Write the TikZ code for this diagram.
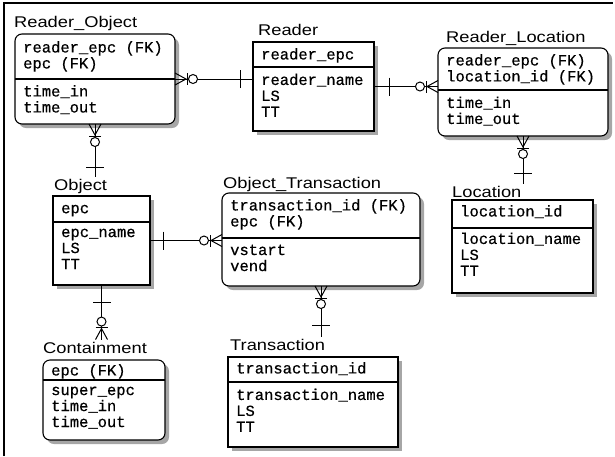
\documentclass[tikz,border=0pt]{standalone}
\usepackage{fontspec}
\usetikzlibrary{positioning}
\usetikzlibrary{backgrounds}

\newfontfamily\titlefont[FakeStretch=1.18]{Liberation Sans}
\newfontfamily\attrfont[FakeBold=0.5]{Liberation Mono}

\tikzset{
	entity/.style={draw, line width=1.1pt, fill=white, inner sep=0pt, outer sep=0pt},
	depentity/.style={entity, rounded corners=7pt},
	shade box/.style={fill=black!35},
	enttitle/.style={font=\titlefont\fontsize{15.5}{18}\selectfont, anchor=base west, inner sep=2pt},
	fields/.style={font=\attrfont\fontsize{15.5}{16}\selectfont, align=left, inner sep=0pt,
		execute at begin node={\rule{0pt}{11pt}}},
	rel/.style={line width=1pt},
	pics/zeromany/.style={code={
		\draw[rel] (0,-6) -- (11,0) -- (0,6);
		\draw[rel] (12,-6) -- (12,6);
		\draw[rel, fill=white] (18,0) circle (4.5);
	}},
	pics/onlyone/.style={code={
		\draw[rel] (#1,-9) -- (#1,9);
	}}
}

\begin{document}
\begin{tikzpicture}[x=1pt, y=-1pt]

	\useasboundingbox (0,0) rectangle (615,456);

	% frame
	\coordinate (fTL) at (4,3);
	\coordinate (fTR) at (613,3);
	\coordinate (fBL) at (4,456);
	\draw[line width=1.2pt] (fBL) -- (fTL) -- (fTR);

	% entities
	\node[depentity, minimum width=160pt, minimum height=90pt] (robj) at (95,79) {};
	\node[entity, minimum width=121pt, minimum height=89pt] (reader) at (313.5,86.5) {};
	\node[depentity, minimum width=170pt, minimum height=88pt] (rloc) at (523,92) {};
	\node[entity, minimum width=97pt, minimum height=89pt] (obj) at (101.5,240.5) {};
	\node[depentity, minimum width=198pt, minimum height=93pt] (otr) at (321,239.5) {};
	\node[entity, minimum width=141pt, minimum height=93pt] (loc) at (522.5,246.5) {};
	\node[depentity, minimum width=122pt, minimum height=80pt] (cont) at (104,400) {};
	\node[entity, minimum width=170pt, minimum height=90pt] (trans) at (313,402) {};

	% shadows
	\begin{scope}[on background layer]
		\fill[shade box, rounded corners=7pt] ([shift={(4,4)}]robj.north west) rectangle ([shift={(4,4)}]robj.south east);
		\fill[shade box] ([shift={(4,4)}]reader.north west) rectangle ([shift={(4,4)}]reader.south east);
		\fill[shade box, rounded corners=7pt] ([shift={(4,4)}]rloc.north west) rectangle ([shift={(4,4)}]rloc.south east);
		\fill[shade box] ([shift={(4,4)}]obj.north west) rectangle ([shift={(4,4)}]obj.south east);
		\fill[shade box, rounded corners=7pt] ([shift={(4,4)}]otr.north west) rectangle ([shift={(4,4)}]otr.south east);
		\fill[shade box] ([shift={(4,4)}]loc.north west) rectangle ([shift={(4,4)}]loc.south east);
		\fill[shade box, rounded corners=7pt] ([shift={(4,4)}]cont.north west) rectangle ([shift={(4,4)}]cont.south east);
		\fill[shade box] ([shift={(4,4)}]trans.north west) rectangle ([shift={(4,4)}]trans.south east);
	\end{scope}

	% key / attribute dividers
	\coordinate (robjD) at (robj.west |- 0,79);
	\coordinate (readerD) at (reader.west |- 0,67);
	\coordinate (rlocD) at (rloc.west |- 0,90);
	\coordinate (objD) at (obj.west |- 0,222);
	\coordinate (otrD) at (otr.west |- 0,238);
	\coordinate (locD) at (loc.west |- 0,228);
	\coordinate (contD) at (cont.west |- 0,380);
	\coordinate (transD) at (trans.west |- 0,382);

	\draw[line width=1.1pt] (robjD) -- (robjD -| robj.east);
	\draw[line width=1.1pt] (readerD) -- (readerD -| reader.east);
	\draw[line width=1.1pt] (rlocD) -- (rlocD -| rloc.east);
	\draw[line width=1.1pt] (objD) -- (objD -| obj.east);
	\draw[line width=1.1pt] (otrD) -- (otrD -| otr.east);
	\draw[line width=1.1pt] (locD) -- (locD -| loc.east);
	\draw[line width=1.1pt] (contD) -- (contD -| cont.east);
	\draw[line width=1.1pt] (transD) -- (transD -| trans.east);

	% titles
	\node[enttitle] (robjT) at ([shift={(-3,-7)}]robj.north west) {Reader\_Object};
	\node[enttitle] (readerT) at ([shift={(3,-7)}]reader.north west) {Reader};
	\node[enttitle] (rlocT) at ([shift={(6,-6)}]rloc.north west) {Reader\_Location};
	\node[enttitle] (objT) at ([shift={(-1,-6)}]obj.north west) {Object};
	\node[enttitle] (otrT) at ([shift={(-1,-5)}]otr.north west) {Object\_Transaction};
	\node[enttitle] (locT) at ([shift={(-2,-3)}]loc.north west) {Location};
	\node[enttitle] (contT) at ([shift={(-2,-7)}]cont.north west) {Containment};
	\node[enttitle] (transT) at ([shift={(0,-7)}]trans.north west) {Transaction};

	% keys
	\node[fields, below right=7pt and 8pt of robj.north west] (robjK) {reader\_epc (FK)\\epc (FK)};
	\node[fields, below right=6pt and 8pt of reader.north west] (readerK) {reader\_epc};
	\node[fields, below right=6pt and 8pt of rloc.north west] (rlocK) {reader\_epc (FK)\\location\_id (FK)};
	\node[fields, below right=6pt and 8pt of obj.north west] (objK) {epc};
	\node[fields, below right=6pt and 8pt of otr.north west] (otrK) {transaction\_id (FK)\\epc (FK)};
	\node[fields, below right=5pt and 8pt of loc.north west] (locK) {location\_id};
	\node[fields, below right=4pt and 8pt of cont.north west] (contK) {epc (FK)};
	\node[fields, below right=5pt and 8pt of trans.north west] (transK) {transaction\_id};

	% attributes
	\node[fields, below right=6pt and 8pt of robjD] (robjA) {time\_in\\time\_out};
	\node[fields, below right=6.5pt and 8pt of readerD] (readerA) {reader\_name\\LS\\TT};
	\node[fields, below right=6.5pt and 8pt of rlocD] (rlocA) {time\_in\\time\_out};
	\node[fields, below right=6.5pt and 8pt of objD] (objA) {epc\_name\\LS\\TT};
	\node[fields, below right=6.5pt and 8pt of otrD] (otrA) {vstart\\vend};
	\node[fields, below right=4.5pt and 8pt of locD] (locA) {location\_name\\LS\\TT};
	\node[fields, below right=6.5pt and 8pt of contD] (contA) {super\_epc\\time\_in\\time\_out};
	\node[fields, below right=6.5pt and 8pt of transD] (transA) {transaction\_name\\LS\\TT};

	% relationships
	\coordinate (c1) at (reader.west |- robj.east);
	\draw[rel] (robj.east) -- (c1);
	\pic at (robj.east) {zeromany};
	\pic[rotate=180] at (c1) {onlyone=13};

	\coordinate (c2) at (rloc.west |- reader.east);
	\draw[rel] (reader.east) -- (c2);
	\pic at (reader.east) {onlyone=15};
	\pic[rotate=180] at (c2) {zeromany};

	\coordinate (c3) at (robj.south |- objT.north);
	\draw[rel] (robj.south) -- (c3);
	\pic[rotate=-90] at (robj.south) {zeromany};
	\pic[rotate=90] at (c3) {onlyone=9};

	\coordinate (c4) at (otr.west |- obj.east);
	\draw[rel] (obj.east) -- (c4);
	\pic at (obj.east) {onlyone=13};
	\pic[rotate=180] at (c4) {zeromany};

	\coordinate (c5) at (obj.south |- contT.north);
	\draw[rel] (obj.south) -- (c5);
	\pic[rotate=-90] at (obj.south) {onlyone=17};
	\pic[rotate=90] at (c5) {zeromany};

	\coordinate (c6) at (otr.south |- transT.north);
	\draw[rel] (otr.south) -- (c6);
	\pic[rotate=-90] at (otr.south) {zeromany};
	\pic[rotate=90] at (c6) {onlyone=11};

	\coordinate (c7) at (rloc.south |- locT.north);
	\draw[rel] (rloc.south) -- (c7);
	\pic[rotate=-90] at (rloc.south) {zeromany};
	\pic[rotate=90] at (c7) {onlyone=10};

\end{tikzpicture}
\end{document}
